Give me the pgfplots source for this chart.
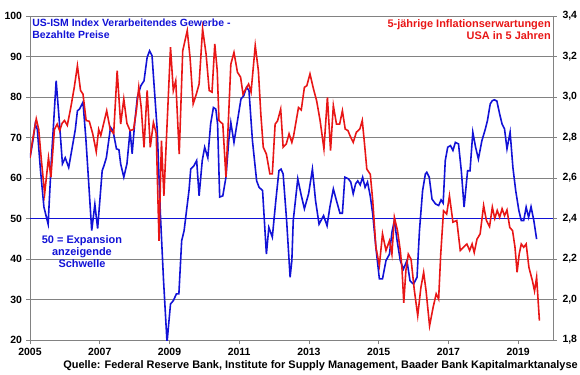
\documentclass[border=0pt]{standalone}
\usepackage{pgfplots}
\pgfplotsset{compat=1.18}
\usepackage{fontspec}
\setmainfont{Liberation Sans}
\definecolor{ismblue}{RGB}{18,18,214}
\definecolor{infred}{RGB}{232,22,22}
\definecolor{gridgray}{RGB}{130,130,130}
\begin{document}
\begin{tikzpicture}
\path[use as bounding box] (0,0) rectangle (580bp,375bp);
\pgfplotsset{
  common/.style={
    at={(30bp,35bp)}, anchor=south west, scale only axis,
    width=523bp, height=324bp,
    xmin=2005, xmax=2020,
    tick style={gridgray, line width=0.6pt},
    major tick length=4bp, tick align=outside,
    axis line style={gridgray, line width=0.7pt},
    ticklabel style={font=\bfseries\fontsize{10.5}{12}\selectfont},
    /pgf/number format/assume math mode=true,
  }
}
\begin{axis}[common,
  ymin=20, ymax=100, ytick={20,30,...,100},
  xtick={2005,2007,...,2019},
  xticklabel style={/pgf/number format/1000 sep={}},
  axis x line*=bottom, axis y line*=left,
  ymajorgrids, grid style={gridgray, line width=0.6pt},
  yticklabel style={xshift=-0.5bp},
  xticklabel style={yshift=-0.5bp},
]
\addplot[ismblue, line width=1.6pt] table {
2005.00 65
2005.08 69
2005.15 73.3
2005.21 72
2005.30 62
2005.40 52.8
2005.52 48.6
2005.61 64
2005.75 84
2005.85 73
2005.93 63.5
2006.01 65
2006.11 62.6
2006.22 68
2006.30 72
2006.36 76.6
2006.42 77
2006.52 78.7
2006.60 70
2006.66 62
2006.77 47
2006.86 53.5
2006.94 47.5
2007.07 61.8
2007.12 63
2007.19 65
2007.31 72.5
2007.38 71.7
2007.48 67.2
2007.55 67
2007.60 63.5
2007.69 60.2
2007.78 63.5
2007.87 71.7
2007.93 66
2008.00 73.3
2008.08 80
2008.18 82.8
2008.27 84
2008.36 89.8
2008.43 91.4
2008.50 90.2
2008.55 84
2008.65 71.7
2008.74 51
2008.83 34.7
2008.93 19.4
2009.03 28.9
2009.11 29.7
2009.20 31.4
2009.27 31.4
2009.35 44.5
2009.42 47
2009.49 52
2009.56 56.9
2009.61 62.2
2009.70 63
2009.78 64.3
2009.85 55.6
2009.94 64.3
2010.01 67.6
2010.10 65
2010.18 73.3
2010.26 77.4
2010.33 77
2010.38 73.3
2010.44 55.3
2010.53 55.6
2010.62 60.2
2010.70 69.2
2010.76 73.7
2010.85 68.8
2010.95 74.1
2011.05 79.5
2011.13 80.3
2011.21 82.4
2011.28 81.6
2011.38 69.2
2011.50 59.3
2011.57 57.7
2011.67 56.9
2011.78 41.2
2011.85 47.8
2011.95 45.4
2012.05 54.4
2012.14 61.8
2012.20 62.2
2012.26 61
2012.36 49.5
2012.46 35.5
2012.51 39.6
2012.55 49.5
2012.68 59.8
2012.77 56.1
2012.87 52.4
2012.99 56.1
2013.10 62.2
2013.19 54.4
2013.29 48.6
2013.42 50.7
2013.52 48.2
2013.60 52.8
2013.70 57.3
2013.79 54.4
2013.89 51.3
2013.96 51.3
2014.03 60.2
2014.13 59.8
2014.20 59
2014.27 56.1
2014.34 58.6
2014.40 59.3
2014.47 58.3
2014.54 60.2
2014.61 57.7
2014.68 59
2014.76 55.5
2014.83 51.1
2014.92 42.9
2015.02 35.1
2015.11 35.1
2015.21 39.6
2015.31 41.2
2015.38 46.6
2015.45 49.5
2015.53 44.5
2015.62 39.6
2015.71 37.5
2015.81 39.6
2015.90 34.6
2016.00 33.8
2016.10 35.5
2016.17 47
2016.26 56.9
2016.34 61
2016.38 61.4
2016.45 60.2
2016.53 54.8
2016.63 53.6
2016.72 53.2
2016.79 54.6
2016.85 53.8
2016.91 64.3
2016.98 67.6
2017.06 68
2017.13 66.8
2017.20 68.8
2017.29 68.4
2017.37 61.8
2017.45 52.8
2017.55 61.8
2017.62 61.8
2017.70 71.3
2017.78 67.6
2017.86 64.7
2017.96 69.2
2018.06 72.1
2018.12 74.2
2018.20 78.3
2018.26 79.1
2018.32 79.3
2018.39 79
2018.47 75.8
2018.54 73.3
2018.61 72.1
2018.68 67.2
2018.77 71.3
2018.85 62.6
2018.93 56.9
2019.02 52
2019.09 49.5
2019.16 49.5
2019.23 52.8
2019.30 50.3
2019.37 52.9
2019.45 49.5
2019.53 44.9
};
\addplot[ismblue, line width=1.8pt] coordinates {(2005,50) (2020,50)};
\node[anchor=north west, align=left, inner sep=0pt, text=ismblue,
  font=\bfseries\fontsize{10.5}{12}\selectfont]
  at (axis cs:2005.06,99.3) {US-ISM Index Verarbeitendes Gewerbe -\\Bezahlte Preise};
\node[anchor=north, align=center, inner sep=0pt, text=ismblue,
  font=\bfseries\fontsize{11}{12}\selectfont]
  at (axis cs:2006.49,45.9) {50 = Expansion\\anzeigende\\Schwelle};
\end{axis}
\begin{axis}[common,
  ymin=1.8, ymax=3.4, ytick={1.8,2.0,...,3.4},
  axis y line*=right, axis x line=none,
  yticklabel style={xshift=2bp, /pgf/number format/use comma, /pgf/number format/fixed, /pgf/number format/fixed zerofill, /pgf/number format/precision=1},
]
\addplot[infred, line width=1.6pt] table {
2005.00 2.700
2005.07 2.784
2005.18 2.892
2005.25 2.840
2005.32 2.700
2005.42 2.522
2005.53 2.700
2005.60 2.604
2005.70 2.840
2005.78 2.866
2005.85 2.834
2005.92 2.870
2005.99 2.884
2006.07 2.860
2006.17 2.948
2006.27 3.048
2006.36 3.154
2006.45 3.032
2006.52 3.014
2006.61 2.884
2006.70 2.880
2006.80 2.818
2006.90 2.730
2006.97 2.840
2007.03 2.810
2007.20 2.932
2007.30 2.840
2007.40 2.820
2007.50 3.130
2007.60 2.866
2007.69 2.990
2007.78 2.870
2007.87 2.834
2007.97 2.840
2008.05 2.932
2008.12 3.048
2008.19 2.948
2008.27 2.752
2008.36 3.032
2008.45 2.752
2008.54 2.874
2008.62 2.820
2008.70 2.290
2008.77 2.784
2008.84 2.512
2009.03 3.246
2009.11 3.032
2009.18 3.080
2009.28 2.718
2009.38 3.228
2009.51 3.328
2009.59 3.196
2009.68 2.966
2009.77 3.014
2009.85 3.064
2009.95 3.336
2010.05 3.212
2010.14 3.032
2010.22 3.024
2010.30 3.262
2010.37 3.130
2010.42 2.884
2010.53 2.866
2010.62 2.604
2010.76 3.162
2010.85 3.220
2010.95 3.122
2011.04 3.098
2011.11 3.014
2011.19 3.040
2011.27 3.064
2011.34 3.024
2011.46 3.254
2011.55 3.130
2011.62 2.916
2011.69 2.752
2011.78 2.718
2011.88 2.620
2011.95 2.620
2012.03 2.866
2012.10 2.882
2012.19 2.940
2012.26 2.752
2012.35 2.768
2012.43 2.818
2012.51 2.776
2012.56 2.808
2012.70 2.948
2012.78 2.936
2012.87 3.048
2012.94 3.056
2013.03 3.114
2013.13 3.040
2013.22 2.982
2013.32 2.884
2013.43 2.744
2013.53 2.998
2013.62 2.736
2013.70 2.958
2013.79 2.866
2013.88 2.866
2013.96 2.932
2014.04 2.842
2014.12 2.834
2014.18 2.808
2014.27 2.776
2014.36 2.826
2014.46 2.842
2014.53 2.884
2014.59 2.776
2014.66 2.644
2014.76 2.618
2014.83 2.488
2014.92 2.258
2015.02 2.168
2015.11 2.324
2015.21 2.242
2015.31 2.290
2015.38 2.224
2015.45 2.406
2015.54 2.340
2015.62 2.242
2015.67 2.150
2015.72 1.984
2015.78 2.142
2015.85 2.224
2015.93 2.198
2016.02 2.050
2016.12 1.920
2016.21 2.058
2016.29 2.134
2016.36 2.042
2016.46 1.870
2016.56 1.960
2016.65 2.028
2016.72 2.002
2016.78 2.224
2016.86 2.438
2016.95 2.422
2017.03 2.512
2017.13 2.382
2017.24 2.390
2017.34 2.242
2017.43 2.258
2017.53 2.274
2017.61 2.242
2017.68 2.274
2017.74 2.232
2017.82 2.298
2017.91 2.324
2018.01 2.464
2018.09 2.390
2018.18 2.360
2018.26 2.456
2018.33 2.400
2018.40 2.440
2018.47 2.406
2018.54 2.448
2018.61 2.414
2018.68 2.442
2018.76 2.356
2018.84 2.340
2018.91 2.258
2018.97 2.134
2019.03 2.224
2019.09 2.274
2019.16 2.258
2019.23 2.274
2019.31 2.158
2019.41 2.092
2019.47 2.042
2019.53 2.110
2019.61 1.896
};
\node[anchor=north east, align=right, inner sep=0pt, text=infred,
  font=\bfseries\fontsize{11}{12}\selectfont]
  at (axis cs:2019.94,3.384) {5-jährige Inflationserwartungen\\USA in 5 Jahren};
\end{axis}
\node[anchor=east, inner sep=0pt, font=\bfseries\fontsize{11}{12}\selectfont]
  at (578bp,9.5bp) {Quelle: Federal Reserve Bank, Institute for Supply Management, Baader Bank Kapitalmarktanalyse};
\end{tikzpicture}
\end{document}
